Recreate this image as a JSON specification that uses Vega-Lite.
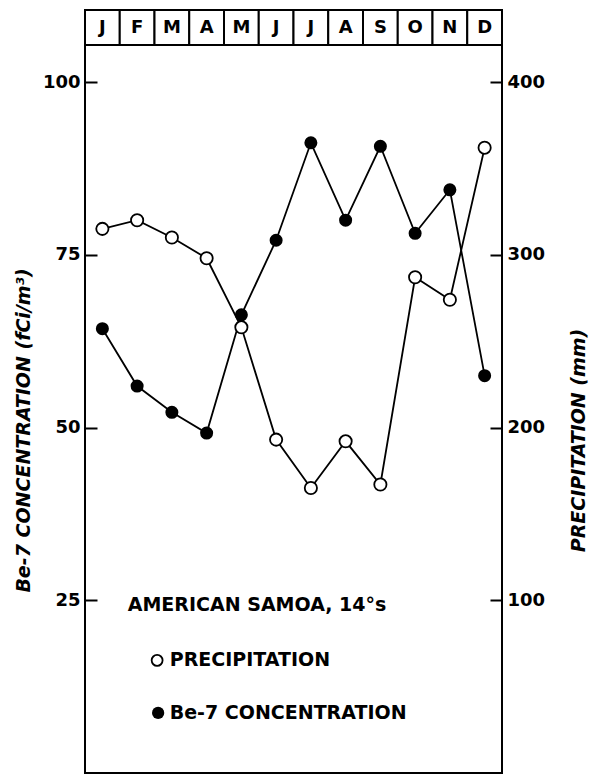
{
  "$schema": "https://vega.github.io/schema/vega-lite/v6.json",
  "width": 417,
  "height": 763,
  "autosize": {"type": "none"},
  "padding": {"left": 85, "top": 10, "right": 90, "bottom": 4},
  "background": "white",
  "config": {
    "view": {"stroke": "black", "strokeWidth": 2},
    "font": "DejaVu Sans",
    "axis": {"labelFont": "DejaVu Sans", "titleFont": "DejaVu Sans"}
  },
  "datasets": {
    "series": [
      {"month": "Jan", "be7": 64.3, "precip": 315},
      {"month": "Feb", "be7": 56.0, "precip": 320},
      {"month": "Mar", "be7": 52.2, "precip": 310},
      {"month": "Apr", "be7": 49.2, "precip": 298},
      {"month": "May", "be7": 66.3, "precip": 258},
      {"month": "Jun", "be7": 77.1, "precip": 193},
      {"month": "Jul", "be7": 91.2, "precip": 165},
      {"month": "Aug", "be7": 80.0, "precip": 192},
      {"month": "Sep", "be7": 90.7, "precip": 167},
      {"month": "Oct", "be7": 78.1, "precip": 287},
      {"month": "Nov", "be7": 84.4, "precip": 274},
      {"month": "Dec", "be7": 57.5, "precip": 362}
    ],
    "header": [
      {"month": "Jan", "letter": "J", "lo": 105.35, "hi": 110.42, "mid": 107.85},
      {"month": "Feb", "letter": "F", "lo": 105.35, "hi": 110.42, "mid": 107.85},
      {"month": "Mar", "letter": "M", "lo": 105.35, "hi": 110.42, "mid": 107.85},
      {"month": "Apr", "letter": "A", "lo": 105.35, "hi": 110.42, "mid": 107.85},
      {"month": "May", "letter": "M", "lo": 105.35, "hi": 110.42, "mid": 107.85},
      {"month": "Jun", "letter": "J", "lo": 105.35, "hi": 110.42, "mid": 107.85},
      {"month": "Jul", "letter": "J", "lo": 105.35, "hi": 110.42, "mid": 107.85},
      {"month": "Aug", "letter": "A", "lo": 105.35, "hi": 110.42, "mid": 107.85},
      {"month": "Sep", "letter": "S", "lo": 105.35, "hi": 110.42, "mid": 107.85},
      {"month": "Oct", "letter": "O", "lo": 105.35, "hi": 110.42, "mid": 107.85},
      {"month": "Nov", "letter": "N", "lo": 105.35, "hi": 110.42, "mid": 107.85},
      {"month": "Dec", "letter": "D", "lo": 105.35, "hi": 110.42, "mid": 107.85}
    ],
    "legendText": [
      {"month": "Feb", "v": 24.3, "label": "AMERICAN SAMOA, 14°s", "off": 8},
      {"month": "Feb", "v": 16.3, "label": "PRECIPITATION", "off": 50},
      {"month": "Feb", "v": 8.7, "label": "Be-7 CONCENTRATION", "off": 50}
    ],
    "legendOpen": [{"month": "Feb", "v": 16.3}],
    "legendFilled": [{"month": "Feb", "v": 8.7}]
  },
  "resolve": {"scale": {"y": "independent"}},
  "layer": [
    {
      "encoding": {
        "x": {
          "field": "month",
          "type": "ordinal",
          "sort": ["Jan","Feb","Mar","Apr","May","Jun","Jul","Aug","Sep","Oct","Nov","Dec"],
          "scale": {"type": "band", "paddingInner": 0, "paddingOuter": 0},
          "axis": null
        }
      },
      "layer": [
        {
          "data": {"name": "header"},
          "mark": {"type": "rect", "fill": "white", "stroke": "black", "strokeWidth": 2},
          "encoding": {
            "y": {"field": "lo", "type": "quantitative", "scale": {"domain": [0, 110.42], "nice": false, "zero": true},
              "axis": {"orient": "left", "values": [25, 50, 75, 100], "tickSize": -12, "tickWidth": 2, "tickColor": "black",
                "domain": false, "grid": false, "labelPadding": 17, "labelFontSize": 18, "labelFontWeight": "bold", "labelColor": "black",
                "title": "Be-7 CONCENTRATION (fCi/m³)", "titleFontSize": 19, "titleFontWeight": "bold", "titleFontStyle": "italic",
                "titleColor": "black", "titleAngle": 270, "titleAlign": "center", "titleBaseline": "middle", "titleX": -62, "titleY": 420}},
            "y2": {"field": "hi"}
          }
        },
        {
          "data": {"name": "header"},
          "mark": {"type": "text", "fontSize": 18, "fontWeight": "bold", "color": "black", "baseline": "middle", "align": "center"},
          "encoding": {
            "y": {"field": "mid", "type": "quantitative"},
            "text": {"field": "letter"}
          }
        },
        {
          "data": {"name": "series"},
          "mark": {"type": "line", "color": "black", "strokeWidth": 1.8},
          "encoding": {"y": {"field": "be7", "type": "quantitative"}}
        },
        {
          "data": {"name": "series"},
          "mark": {"type": "point", "shape": "circle", "filled": true, "color": "black", "size": 170, "opacity": 1},
          "encoding": {"y": {"field": "be7", "type": "quantitative"}}
        },
        {
          "data": {"name": "legendText"},
          "mark": {"type": "text", "fontSize": 19, "fontWeight": "bold", "color": "black", "align": "left", "baseline": "middle"},
          "encoding": {
            "y": {"field": "v", "type": "quantitative"},
            "text": {"field": "label"},
            "xOffset": {"field": "off", "type": "quantitative", "scale": null}
          }
        },
        {
          "data": {"name": "legendOpen"},
          "mark": {"type": "point", "shape": "circle", "filled": false, "fill": "white", "stroke": "black", "strokeWidth": 1.8, "size": 120, "opacity": 1, "xOffset": 20},
          "encoding": {"y": {"field": "v", "type": "quantitative"}}
        },
        {
          "data": {"name": "legendFilled"},
          "mark": {"type": "point", "shape": "circle", "filled": true, "color": "black", "size": 150, "opacity": 1, "xOffset": 21},
          "encoding": {"y": {"field": "v", "type": "quantitative"}}
        }
      ]
    },
    {
      "data": {"name": "series"},
      "encoding": {
        "x": {
          "field": "month",
          "type": "ordinal",
          "sort": ["Jan","Feb","Mar","Apr","May","Jun","Jul","Aug","Sep","Oct","Nov","Dec"],
          "scale": {"type": "band", "paddingInner": 0, "paddingOuter": 0},
          "axis": null
        },
        "y": {"field": "precip", "type": "quantitative", "scale": {"domain": [0, 441.7], "nice": false, "zero": true},
          "axis": {"orient": "right", "values": [100, 200, 300, 400], "tickSize": -12, "tickWidth": 2, "tickColor": "black",
            "domain": false, "grid": false, "labelPadding": 17, "labelFontSize": 18, "labelFontWeight": "bold", "labelColor": "black",
            "title": "PRECIPITATION (mm)", "titleFontSize": 19, "titleFontWeight": "bold", "titleFontStyle": "italic",
            "titleColor": "black", "titleAngle": 270, "titleAlign": "center", "titleBaseline": "middle", "titleX": 76, "titleY": 430}}
      },
      "layer": [
        {"mark": {"type": "line", "color": "black", "strokeWidth": 1.8}},
        {"mark": {"type": "point", "shape": "circle", "filled": false, "fill": "white", "stroke": "black", "strokeWidth": 1.8, "size": 150, "opacity": 1}}
      ]
    }
  ]
}
